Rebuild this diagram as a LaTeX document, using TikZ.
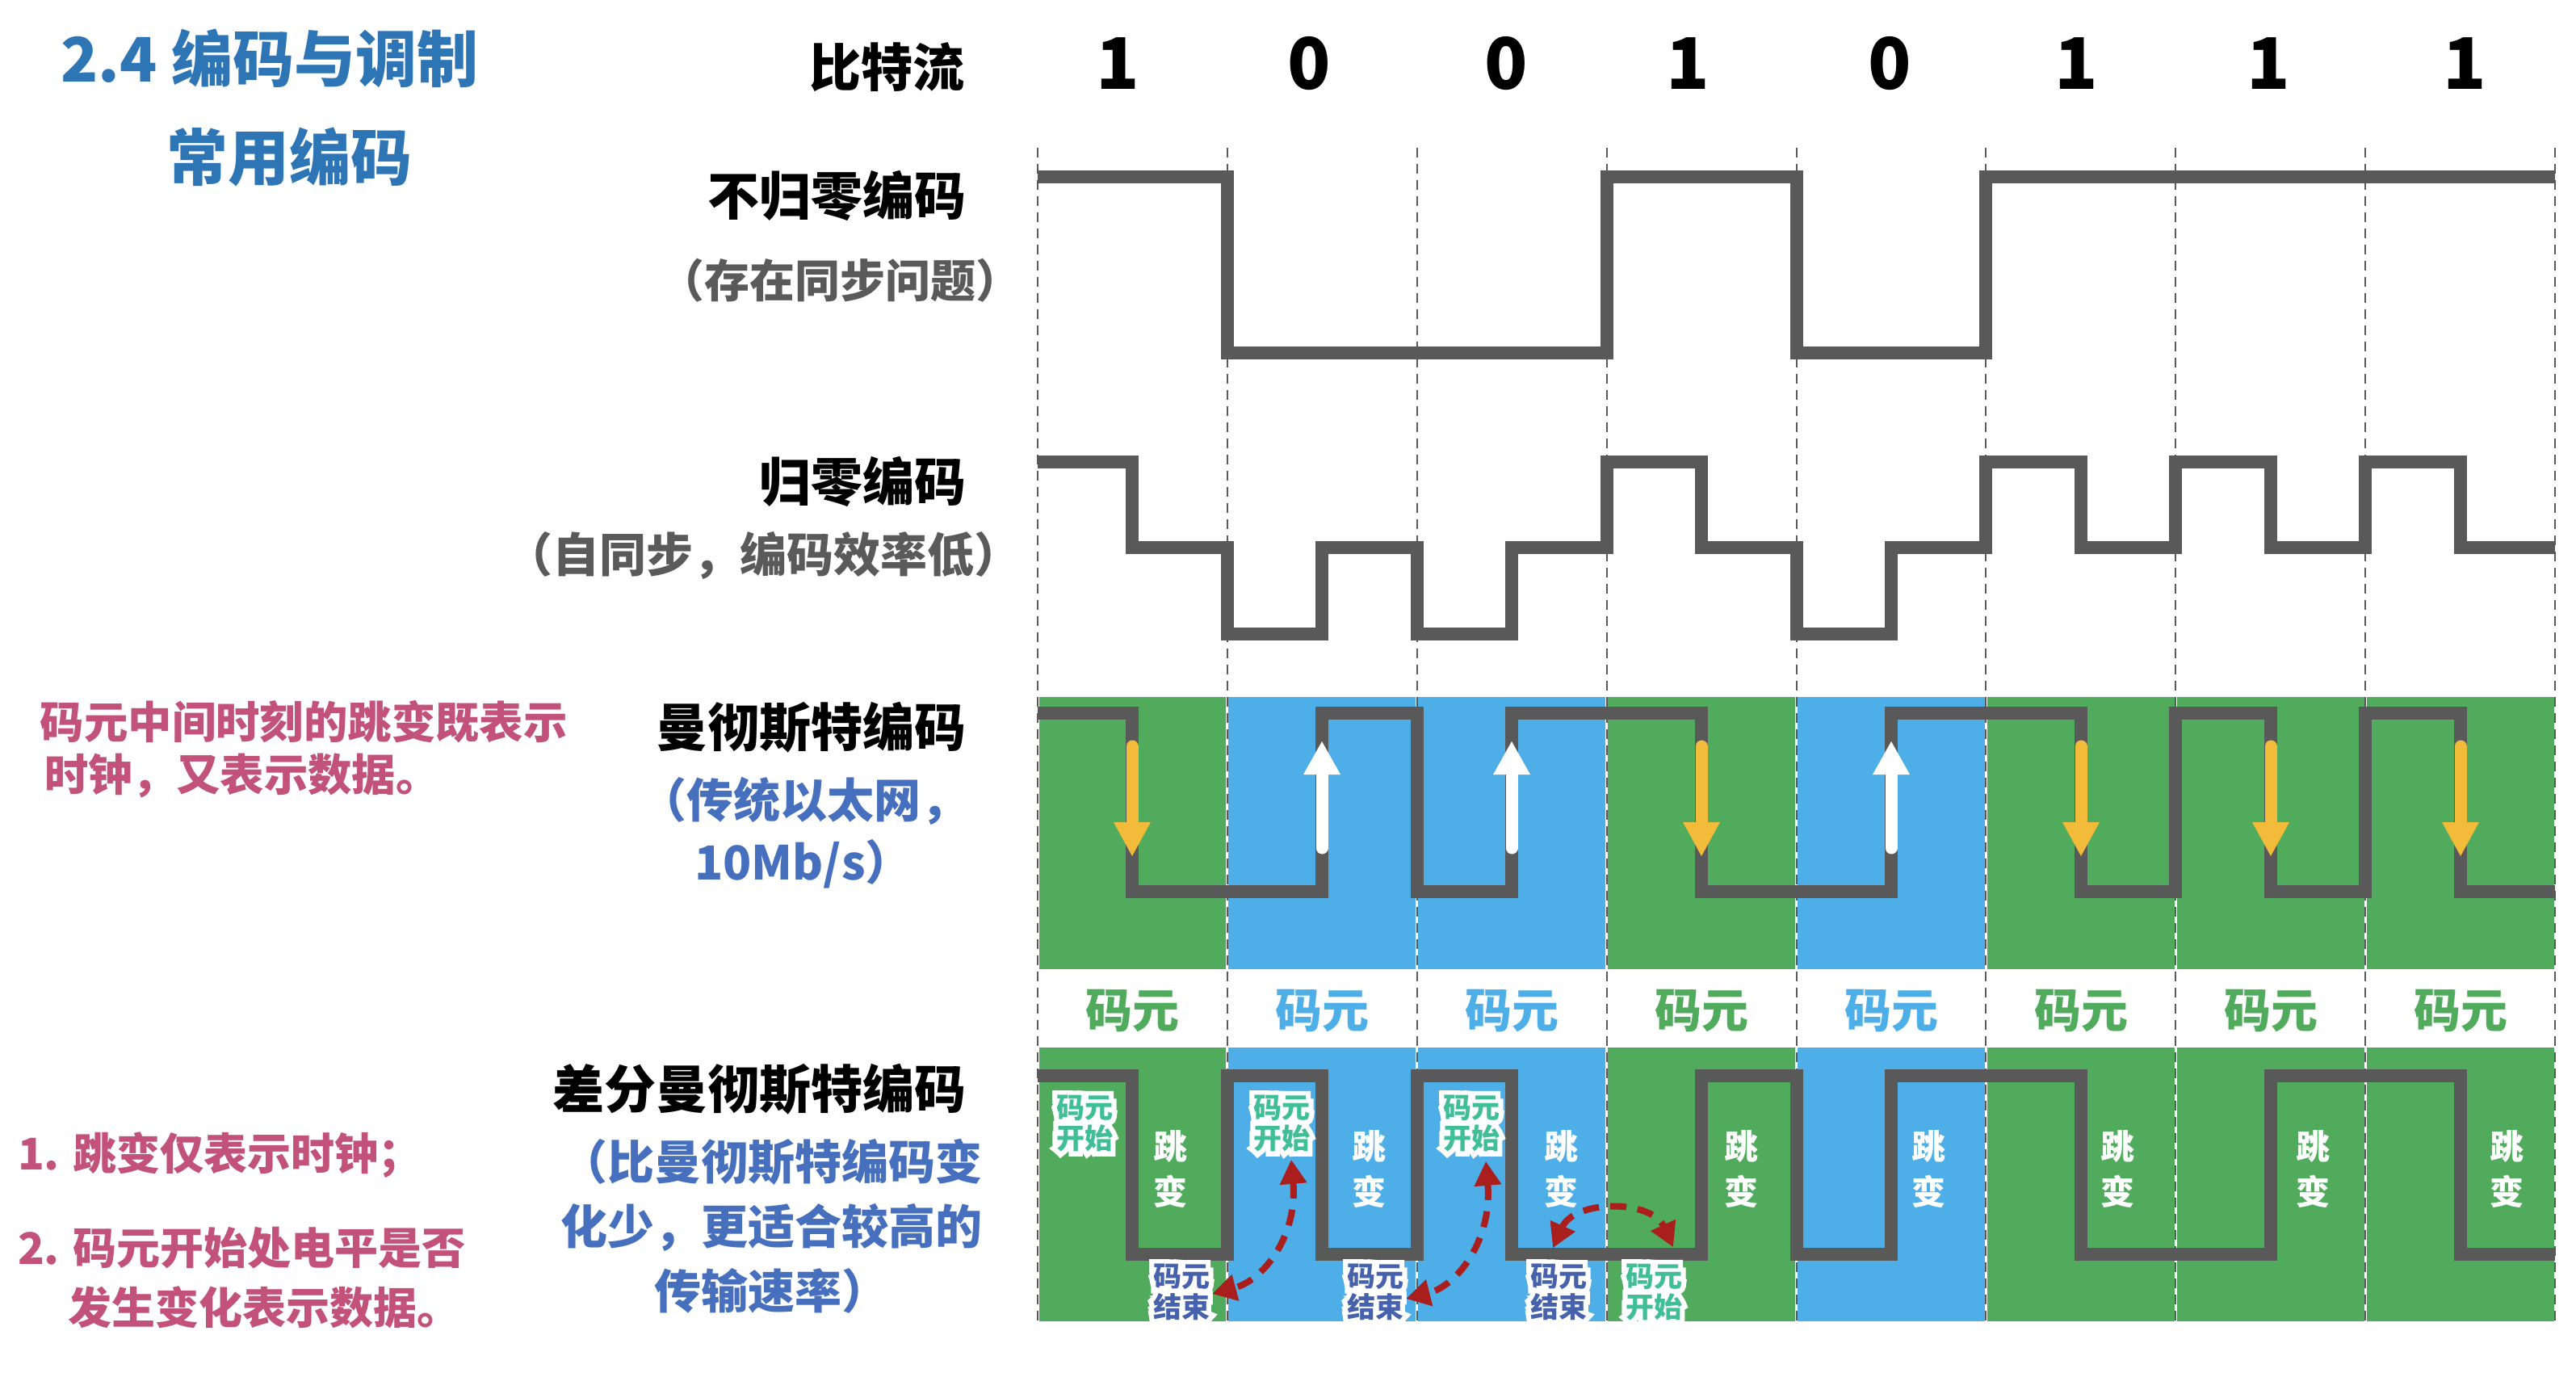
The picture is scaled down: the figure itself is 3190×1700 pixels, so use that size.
\documentclass[tikz,border=0pt]{standalone}
\usepackage{fontspec}
\setmainfont{Noto Sans CJK SC}
\newfontfamily\halofont{Noto Sans CJK SC}[FakeBold=35]
\usetikzlibrary{arrows.meta}
\definecolor{titleblue}{RGB}{46,117,182}
\definecolor{sigcol}{RGB}{89,89,89}
\definecolor{bandg}{RGB}{80,172,92}
\definecolor{bandb}{RGB}{78,174,232}
\definecolor{pinkc}{RGB}{194,82,122}
\definecolor{subblue}{RGB}{70,112,190}
\definecolor{subgray}{RGB}{90,90,90}
\definecolor{startc}{RGB}{64,190,150}
\definecolor{endc}{RGB}{70,98,172}
\definecolor{arrowy}{RGB}{242,188,58}
\definecolor{arrowr}{RGB}{170,30,30}
\definecolor{gridc}{RGB}{90,90,90}
\newcommand\myfs[2]{\fontsize{#1pt}{#2pt}\selectfont}
\newcommand\wc[1]{\rlap{\color{white}\halofont #1}#1}
\begin{document}
\begin{tikzpicture}[x=0.25pt,y=-0.25pt,
  every node/.style={inner sep=0pt,outer sep=0pt},
  ttl/.style={font=\bfseries\myfs{19}{23}, text=titleblue},
  bitt/.style={font=\bfseries\myfs{22}{26}},
  head/.style={font=\bfseries\myfs{16}{19}, anchor=east},
  subg/.style={font=\bfseries\myfs{14}{16}, text=subgray},
  subb/.style={font=\bfseries\myfs{14.5}{19.25}, text=subblue, align=center},
  pinkt/.style={font=\bfseries\myfs{13.6}{16.5}, text=pinkc, anchor=west},
  cellg/.style={font=\bfseries\myfs{14.5}{17}, text=bandg},
  cellb/.style={font=\bfseries\myfs{14.5}{17}, text=bandb},
  startt/.style={font=\bfseries\myfs{8.75}{9.4}, text=startc, align=center},
  endt/.style={font=\bfseries\myfs{8.75}{9.4}, text=endc, align=center},
  jump/.style={font=\bfseries\myfs{10.5}{14}, text=white, align=center},
  sig/.style={draw=sigcol, line width=4pt, line join=miter},
  gridl/.style={draw=gridc, line width=0.6pt, dash pattern=on 3pt off 2pt},
  redarr/.style={draw=arrowr, line width=2pt, dash pattern=on 5pt off 3.5pt,
    arrows={Triangle[length=7.5pt,width=8pt]-Triangle[length=7.5pt,width=8pt]}}
]
\useasboundingbox (0,0) rectangle (3190,1700);

% ---- colored bands
\foreach \i/\c in {0/bandg,1/bandb,2/bandb,3/bandg,4/bandb,5/bandg,6/bandg,7/bandg}{
  \fill[\c] ({1285+234.875*\i+1.5},863) rectangle ({1285+234.875*(\i+1)-1.5},1200);
  \fill[\c] ({1285+234.875*\i+1.5},1297) rectangle ({1285+234.875*(\i+1)-1.5},1636);
}

% ---- dashed grid
\foreach \x in {1285,1520,1755,1990,2225,2459,2694,2929,3164}
  \draw[gridl] (\x,183) -- (\x,1640);

% ---- titles and headings
\node[ttl] (title) at (334,72) {2.4 编码与调制};
\node[ttl] (sub) at (358,195) {常用编码};
\node[font=\bfseries\myfs{16}{19}] (bs) at (1098,83) {比特流};
\foreach \x/\b [count=\k] in {1384/1,1621/0,1865/0,2090/1,2340/0,2571/1,2809/1,3052/1}
  \node[bitt] (bit\k) at (\x,79) {\b};

\node[head] (nrz) at (1196,242) {不归零编码};
\node[subg] (nrzs) at (1040,347) {（存在同步问题）};
\node[head] (rz) at (1196,596) {归零编码};
\node[subg, font=\bfseries\myfs{14.5}{16}] (rzs) at (945,688) {（自同步，编码效率低）};
\node[head] (man) at (1196,901) {曼彻斯特编码};
\node[subb] (mans) at (995,1031) {（传统以太网，\\10Mb/s）};
\node[head] (dman) at (1196,1349) {差分曼彻斯特编码};
\node[subb, font=\bfseries\myfs{14.5}{20}] (dmans) at (955,1518) {（比曼彻斯特编码变\\化少，更适合较高的\\传输速率）};

% ---- pink notes
\node[pinkt] (p1) at (50,894) {码元中间时刻的跳变既表示};
\node[pinkt] (p2) at (55,960) {时钟，又表示数据。};
\node[pinkt, font=\bfseries\myfs{13.5}{16}] (q1) at (22,1430) {1. 跳变仅表示时钟；};
\node[pinkt, font=\bfseries\myfs{13.5}{16}] (q2) at (22,1545) {2. 码元开始处电平是否};
\node[pinkt, font=\bfseries\myfs{13.5}{16}] (q3) at (84,1619) {发生变化表示数据。};

% ---- row of cell labels
\foreach \x/\s [count=\k] in {1402/cellg,1637/cellb,1872/cellb,2107/cellg,2342/cellb,2577/cellg,2812/cellg,3047/cellg}
  \node[\s] (cell\k) at (\x,1252) {码元};

% ---- NRZ
\draw[sig] (1285,219) -- (1520,219) -- (1520,437) -- (1990,437) -- (1990,219) -- (2225,219)
  -- (2225,437) -- (2459,437) -- (2459,219) -- (3164,219);

% ---- RZ
\draw[sig] (1285,572) -- (1402,572) -- (1402,678) -- (1520,678) -- (1520,785) -- (1637,785)
  -- (1637,678) -- (1755,678) -- (1755,785) -- (1872,785) -- (1872,678) -- (1990,678)
  -- (1990,572) -- (2107,572) -- (2107,678) -- (2225,678) -- (2225,785) -- (2342,785)
  -- (2342,678) -- (2459,678) -- (2459,572) -- (2577,572) -- (2577,678) -- (2694,678)
  -- (2694,572) -- (2812,572) -- (2812,678) -- (2929,678) -- (2929,572) -- (3047,572)
  -- (3047,678) -- (3164,678);

% ---- Manchester
\draw[sig] (1285,883) -- (1402,883) -- (1402,1104) -- (1637,1104) -- (1637,883) -- (1755,883)
  -- (1755,1104) -- (1872,1104) -- (1872,883) -- (2107,883) -- (2107,1104) -- (2342,1104)
  -- (2342,883) -- (2577,883) -- (2577,1104) -- (2694,1104) -- (2694,883) -- (2812,883)
  -- (2812,1104) -- (2929,1104) -- (2929,883) -- (3047,883) -- (3047,1104) -- (3164,1104);

% Manchester transition arrows
\foreach \x in {1402,2107,2577,2812,3047}{
  \draw[arrowy, line width=3.75pt, line cap=round] (\x,924) -- (\x,1022);
  \fill[arrowy] (\x-23,1018) -- (\x+23,1018) -- (\x,1060) -- cycle;
}
\foreach \x in {1637,1872,2342}{
  \draw[white, line width=3.75pt, line cap=round] (\x,1050) -- (\x,955);
  \fill[white] (\x-23,959) -- (\x+23,959) -- (\x,918) -- cycle;
}

% ---- Differential Manchester
\draw[sig] (1285,1332) -- (1402,1332) -- (1402,1553) -- (1520,1553) -- (1520,1332) -- (1637,1332)
  -- (1637,1553) -- (1755,1553) -- (1755,1332) -- (1872,1332) -- (1872,1553) -- (2107,1553)
  -- (2107,1332) -- (2225,1332) -- (2225,1553) -- (2342,1553) -- (2342,1332) -- (2577,1332)
  -- (2577,1553) -- (2812,1553) -- (2812,1332) -- (3047,1332) -- (3047,1553) -- (3164,1553);

\foreach \x [count=\k] in {1449,1695,1933,2156,2388,2622,2864,3104}
  \node[jump] (jump\k) at (\x,1448) {跳\\变};

\node[startt] (s1) at (1343,1391) {\wc{码元}\\\wc{开始}};
\node[startt] (s2) at (1587,1391) {\wc{码元}\\\wc{开始}};
\node[startt] (s3) at (1822,1391) {\wc{码元}\\\wc{开始}};
\node[startt] (s4) at (2048,1600) {\wc{码元}\\\wc{开始}};
\node[endt] (e1) at (1463,1600) {\wc{码元}\\\wc{结束}};
\node[endt] (e2) at (1703,1600) {\wc{码元}\\\wc{结束}};
\node[endt] (e3) at (1930,1600) {\wc{码元}\\\wc{结束}};

% red dashed arrows
\coordinate (r1a) at ([shift={(12,10)}]s2.south);
\coordinate (r1b) at ([shift={(3,2)}]e1.east);
\coordinate (r2a) at ([shift={(18,12)}]s3.south);
\coordinate (r2b) at ([shift={(3,8)}]e2.east);
\coordinate (r3a) at ([shift={(-7,-20)}]e3.north);
\coordinate (r3b) at ([shift={(24,-21)}]s4.north);
\draw[redarr] (r1a) .. controls (1607,1530) and (1565,1585) .. (r1b);
\draw[redarr] (r2a) .. controls (1848,1535) and (1805,1592) .. (r2b);
\draw[redarr] (r3a) .. controls (1950,1485) and (2045,1485) .. (r3b);
\end{tikzpicture}
\end{document}
